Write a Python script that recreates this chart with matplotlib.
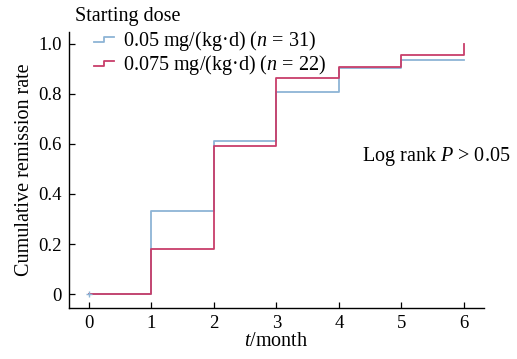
import matplotlib
matplotlib.use("Agg")
import matplotlib.pyplot as plt
from matplotlib.legend_handler import HandlerLine2D
from matplotlib.lines import Line2D

plt.rcParams['font.family'] = ['Liberation Serif', 'DejaVu Serif']
plt.rcParams['mathtext.fontset'] = 'custom'
plt.rcParams['mathtext.it'] = 'Liberation Serif:italic'
plt.rcParams['mathtext.rm'] = 'Liberation Serif'

# data
months = [0, 1, 2, 3, 4, 5, 6]
rate_005 = [0, 0.333, 0.613, 0.806, 0.903, 0.935, 0.935]
rate_0075 = [0, 0.182, 0.591, 0.864, 0.909, 0.955, 1.0]
labels = ["0.05 mg/(kg·d) ($n$ = 31)", "0.075 mg/(kg·d) ($n$ = 22)"]
blue = "#8db4d6"
red = "#c83e6a"
fs = 14.5


class StepHandler(HandlerLine2D):
    # small step icon like the one in the legend
    def create_artists(self, legend, orig_handle, xdescent, ydescent,
                       width, height, fontsize, trans):
        x0, x1 = -xdescent, -xdescent + width
        xm = (x0 + x1) / 2
        ylo = -ydescent + height * 0.3
        yhi = -ydescent + height * 0.65
        ln = Line2D([x0, xm, xm, x1], [ylo, ylo, yhi, yhi],
                    color=orig_handle.get_color(), lw=orig_handle.get_linewidth(),
                    transform=trans)
        return [ln]


fig = plt.figure(figsize=(5.17, 3.59), dpi=100)
ax = fig.add_axes([0.1335, 0.142, 0.8025, 0.769])

l1, = ax.step(months, rate_005, where='post', color=blue, lw=1.3)
l2, = ax.step(months, rate_0075, where='post', color=red, lw=1.3)
ax.plot([0], [0], marker='+', color=blue, ms=5, mew=1)

ax.set_xlim(-0.32, 6.32)
ax.set_ylim(-0.056, 1.048)
ax.set_xticks(months)
ax.set_yticks([0, 0.2, 0.4, 0.6, 0.8, 1.0])
ax.set_yticklabels(["0", "0.2", "0.4", "0.6", "0.8", "1.0"])
ax.tick_params(direction='in', length=4, width=0.9, labelsize=13.5, pad=5)
for s in ['top', 'right']:
    ax.spines[s].set_visible(False)
for s in ['left', 'bottom']:
    ax.spines[s].set_linewidth(1.0)

ax.set_xlabel("$t$/month", fontsize=fs, labelpad=0)
ax.set_ylabel("Cumulative remission rate", fontsize=fs, labelpad=3)

fig.text(75 / 517, 1 - 17 / 359, "Starting dose", fontsize=fs, va='center', ha='left')
ax.legend([l1, l2], labels, handler_map={Line2D: StepHandler()},
          loc='upper left', bbox_to_anchor=(94 / 517, 1 - 29 / 359),
          bbox_transform=fig.transFigure, frameon=False, fontsize=fs,
          handlelength=1.0, handletextpad=0.45, labelspacing=0.0,
          borderpad=0, borderaxespad=0)

fig.text(510 / 517, 1 - 156 / 359, "Log rank $P$ > 0.05", fontsize=fs,
         ha='right', va='center')

fig.savefig("out.png", dpi=100)
